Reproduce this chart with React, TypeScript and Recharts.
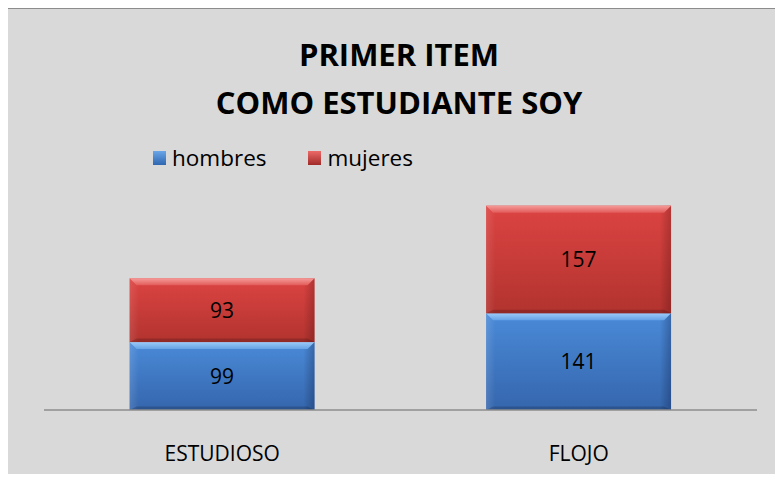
import React from "react";
import { BarChart, Bar, XAxis, YAxis, LabelList } from "recharts";

const categories = ["ESTUDIOSO", "FLOJO"];
const hombres = [99, 141];
const mujeres = [93, 157];

const data = categories.map((c, i) => ({
  name: c,
  hombres: hombres[i],
  mujeres: mujeres[i],
}));

const FONT = "'Open Sans', 'Noto Sans', sans-serif";

// beveled bar like the office 3D style
const BevelBar = (props: any) => {
  const { x, y, width, height, gid } = props;
  if (!height || height <= 0) return null;
  const b = 7;
  return (
    <g>
      <rect x={x} y={y} width={width} height={height} fill={`url(#${gid}-body)`} />
      <rect x={x} y={y} width={width} height={height} fill={`url(#${gid}-side)`} />
      <polygon
        points={`${x},${y} ${x + width},${y} ${x + width - b},${y + b} ${x + b},${y + b}`}
        fill={`url(#${gid}-top)`}
      />
      <polygon
        points={`${x},${y + height} ${x + width},${y + height} ${x + width - b},${y + height - b / 2} ${x + b},${y + height - b / 2}`}
        fill="rgba(0,0,0,0.18)"
      />
    </g>
  );
};

const CatTick = (props: any) => {
  const { x, y, payload } = props;
  return (
    <text x={x} y={y + 37} textAnchor="middle" dominantBaseline="middle" fontFamily={FONT} fontSize={21} fill="#000">
      {payload.value}
    </text>
  );
};

export default function App() {
  return (
    <div style={{ position: "relative", width: 783, height: 482, margin: -8, background: "#fff", overflow: "hidden" }}>
      <div
        style={{
          position: "absolute",
          left: 5,
          top: 7,
          width: 790,
          height: 490,
          background: "#d9d9d9",
          borderLeft: "2px solid #8c8c8c",
          borderTop: "2px solid #8c8c8c",
        }}
      />
      <div
        style={{
          position: "absolute",
          left: 0,
          width: 798,
          top: 30,
          textAlign: "center",
          fontFamily: FONT,
          fontWeight: 700,
          fontSize: 31,
          lineHeight: "48px",
          color: "#000",
        }}
      >
        PRIMER ITEM
        <br />
        COMO ESTUDIANTE SOY
      </div>
      <div
        style={{
          position: "absolute",
          top: 142,
          left: 153,
          display: "flex",
          alignItems: "center",
          fontFamily: FONT,
          fontSize: 22.5,
          color: "#000",
        }}
      >
        <span style={{ display: "inline-block", width: 13, height: 14, background: "linear-gradient(#6aa6e8, #2f66b0)", marginRight: 6 }} />
        <span style={{ marginRight: 42 }}>hombres</span>
        <span style={{ display: "inline-block", width: 13, height: 14, background: "linear-gradient(#ec6a68, #a02a28)", marginRight: 6 }} />
        <span>mujeres</span>
      </div>
      <div style={{ position: "absolute", left: 0, top: 0 }}>
        <BarChart
          width={783}
          height={482}
          data={data}
          margin={{ top: 170, right: 26, left: 44, bottom: 0 }}
          barCategoryGap="24%"
        >
          <defs>
            <linearGradient id="blue-body" x1="0" y1="0" x2="0" y2="1">
              <stop offset="0%" stopColor="#4a8ad8" />
              <stop offset="100%" stopColor="#3566ad" />
            </linearGradient>
            <linearGradient id="blue-side" x1="0" y1="0" x2="1" y2="0">
              <stop offset="0%" stopColor="rgba(255,255,255,0.12)" />
              <stop offset="5%" stopColor="rgba(255,255,255,0)" />
              <stop offset="94%" stopColor="rgba(0,0,0,0)" />
              <stop offset="100%" stopColor="rgba(0,0,40,0.25)" />
            </linearGradient>
            <linearGradient id="blue-top" x1="0" y1="0" x2="0" y2="1">
              <stop offset="0%" stopColor="#9ccaf8" />
              <stop offset="100%" stopColor="#64a2e6" />
            </linearGradient>
            <linearGradient id="red-body" x1="0" y1="0" x2="0" y2="1">
              <stop offset="0%" stopColor="#dc4442" />
              <stop offset="100%" stopColor="#b2332f" />
            </linearGradient>
            <linearGradient id="red-side" x1="0" y1="0" x2="1" y2="0">
              <stop offset="0%" stopColor="rgba(255,255,255,0.1)" />
              <stop offset="5%" stopColor="rgba(255,255,255,0)" />
              <stop offset="94%" stopColor="rgba(0,0,0,0)" />
              <stop offset="100%" stopColor="rgba(40,0,0,0.22)" />
            </linearGradient>
            <linearGradient id="red-top" x1="0" y1="0" x2="0" y2="1">
              <stop offset="0%" stopColor="#f49a98" />
              <stop offset="100%" stopColor="#e25c5a" />
            </linearGradient>
          </defs>
          <XAxis
            dataKey="name"
            height={72}
            axisLine={{ stroke: "#8c8c8c", strokeWidth: 1.5 }}
            tickLine={false}
            tick={<CatTick />}
            interval={0}
          />
          <YAxis hide domain={[0, 350]} />
          <Bar dataKey="hombres" stackId="a" isAnimationActive={false} shape={(p: any) => <BevelBar {...p} gid="blue" />}>
            <LabelList dataKey="hombres" position="center" fill="#000" fontSize={21} fontFamily={FONT} />
          </Bar>
          <Bar dataKey="mujeres" stackId="a" isAnimationActive={false} shape={(p: any) => <BevelBar {...p} gid="red" />}>
            <LabelList dataKey="mujeres" position="center" fill="#000" fontSize={21} fontFamily={FONT} />
          </Bar>
        </BarChart>
      </div>
    </div>
  );
}
